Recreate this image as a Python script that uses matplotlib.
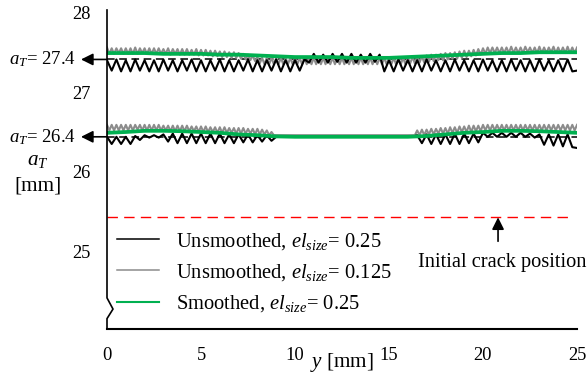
import numpy as np
import matplotlib
matplotlib.use('Agg')
import matplotlib.pyplot as plt
from matplotlib.transforms import blended_transform_factory

plt.rcParams['font.family'] = 'Liberation Serif'
plt.rcParams['mathtext.fontset'] = 'custom'
plt.rcParams['mathtext.rm'] = 'Liberation Serif'
plt.rcParams['mathtext.it'] = 'Liberation Serif:italic'
plt.rcParams['font.size'] = 13.3

# crack front positions a_T along the thickness coordinate y [mm]
y_coarse = np.arange(101) * 0.25    # el_size = 0.25 nodes
y_fine = np.arange(201) * 0.125     # el_size = 0.125 nodes
y_smooth = np.arange(26) * 1.0

# upper crack front (a_T = 27.4)
black_top = [
    27.40, 27.27, 27.41, 27.26, 27.40, 27.26, 27.41, 27.27, 27.40, 27.26,
    27.40, 27.26, 27.41, 27.27, 27.40, 27.26, 27.40, 27.27, 27.41, 27.26,
    27.40, 27.26, 27.40, 27.27, 27.41, 27.26, 27.40, 27.26, 27.40, 27.27,
    27.41, 27.26, 27.40, 27.26, 27.40, 27.27, 27.41, 27.26, 27.40, 27.26,
    27.40, 27.27, 27.41, 27.37, 27.48, 27.37, 27.47, 27.37, 27.48, 27.38,
    27.48, 27.37, 27.48, 27.37, 27.47, 27.37, 27.48, 27.38, 27.47, 27.26,
    27.40, 27.26, 27.41, 27.27, 27.40, 27.26, 27.40, 27.26, 27.41, 27.27,
    27.40, 27.26, 27.40, 27.26, 27.41, 27.27, 27.40, 27.26, 27.40, 27.26,
    27.41, 27.27, 27.40, 27.26, 27.40, 27.26, 27.41, 27.27, 27.40, 27.26,
    27.40, 27.26, 27.41, 27.27, 27.40, 27.26, 27.40, 27.26, 27.41, 27.26,
    27.27,
]
grey_top = [
    27.56, 27.48, 27.55, 27.48, 27.55, 27.49, 27.55, 27.48,
    27.55, 27.48, 27.55, 27.48, 27.56, 27.48, 27.55, 27.49,
    27.55, 27.48, 27.55, 27.48, 27.55, 27.48, 27.55, 27.48,
    27.54, 27.48, 27.55, 27.47, 27.54, 27.48, 27.54, 27.47,
    27.54, 27.47, 27.54, 27.47, 27.53, 27.47, 27.54, 27.46,
    27.53, 27.46, 27.53, 27.46, 27.52, 27.45, 27.52, 27.45,
    27.51, 27.44, 27.51, 27.44, 27.50, 27.43, 27.50, 27.43,
    27.49, 27.42, 27.48, 27.41, 27.47, 27.40, 27.46, 27.39,
    27.44, 27.36, 27.43, 27.35, 27.43, 27.35, 27.43, 27.35,
    27.43, 27.35, 27.43, 27.35, 27.43, 27.35, 27.43, 27.35,
    27.43, 27.35, 27.43, 27.35, 27.43, 27.35, 27.43, 27.35,
    27.43, 27.35, 27.43, 27.35, 27.43, 27.35, 27.43, 27.35,
    27.43, 27.35, 27.43, 27.35, 27.43, 27.35, 27.43, 27.35,
    27.43, 27.35, 27.43, 27.35, 27.43, 27.35, 27.43, 27.35,
    27.43, 27.35, 27.43, 27.35, 27.43, 27.35, 27.43, 27.35,
    27.43, 27.35, 27.43, 27.35, 27.43, 27.35, 27.43, 27.35,
    27.44, 27.36, 27.44, 27.36, 27.45, 27.37, 27.45, 27.37,
    27.46, 27.38, 27.47, 27.39, 27.47, 27.40, 27.48, 27.40,
    27.49, 27.41, 27.49, 27.42, 27.50, 27.42, 27.51, 27.43,
    27.52, 27.44, 27.52, 27.45, 27.53, 27.46, 27.54, 27.47,
    27.55, 27.48, 27.56, 27.49, 27.56, 27.49, 27.56, 27.49,
    27.56, 27.49, 27.56, 27.49, 27.57, 27.49, 27.56, 27.49,
    27.56, 27.49, 27.57, 27.50, 27.56, 27.49, 27.56, 27.49,
    27.57, 27.49, 27.56, 27.49, 27.56, 27.50, 27.57, 27.49,
    27.56, 27.49, 27.56, 27.49, 27.57, 27.49, 27.56, 27.49,
    27.56,
]
green_top = [27.49, 27.49, 27.49, 27.48, 27.48, 27.48, 27.47, 27.47, 27.46,
             27.45, 27.44, 27.44, 27.44, 27.43, 27.43, 27.43, 27.44, 27.45,
             27.46, 27.47, 27.48, 27.49, 27.49, 27.50, 27.50, 27.50]

# lower crack front (a_T = 26.4)
black_bot = [
    26.44, 26.35, 26.44, 26.35,
    26.44, 26.35, 26.45, 26.40,
    26.46, 26.43, 26.46, 26.43,
    26.47, 26.38, 26.48, 26.36,
    26.48, 26.36, 26.48, 26.36,
    26.48, 26.36, 26.48, 26.36,
    26.48, 26.36, 26.47, 26.36,
    26.47, 26.37, 26.47, 26.37,
    26.46, 26.38, 26.46, 26.39,
    26.44, 26.44, 26.44, 26.44,
    26.44, 26.44, 26.44, 26.44,
    26.44, 26.44, 26.44, 26.44,
    26.44, 26.44, 26.44, 26.44,
    26.44, 26.44, 26.44, 26.44,
    26.44, 26.44, 26.44, 26.44,
    26.44, 26.44, 26.44, 26.44,
    26.44, 26.44, 26.46, 26.36,
    26.47, 26.35, 26.47, 26.35,
    26.47, 26.35, 26.48, 26.35,
    26.48, 26.36, 26.48, 26.37,
    26.49, 26.44, 26.49, 26.44,
    26.49, 26.44, 26.49, 26.44,
    26.49, 26.44, 26.48, 26.43,
    26.47, 26.34, 26.47, 26.33,
    26.47, 26.32, 26.47, 26.31,
    26.30,
]
grey_bot = [
    26.59, 26.52, 26.59, 26.52, 26.59, 26.52, 26.59, 26.52,
    26.59, 26.52, 26.59, 26.52, 26.59, 26.53, 26.59, 26.52,
    26.59, 26.52, 26.59, 26.52, 26.59, 26.52, 26.59, 26.52,
    26.58, 26.52, 26.58, 26.51, 26.58, 26.51, 26.58, 26.51,
    26.58, 26.51, 26.58, 26.51, 26.57, 26.51, 26.57, 26.50,
    26.57, 26.50, 26.57, 26.50, 26.56, 26.50, 26.56, 26.49,
    26.56, 26.49, 26.56, 26.49, 26.55, 26.49, 26.55, 26.48,
    26.55, 26.48, 26.55, 26.48, 26.54, 26.48, 26.54, 26.47,
    26.54, 26.47, 26.53, 26.47, 26.52, 26.46, 26.50, 26.46,
    26.46, 26.46, 26.46, 26.46, 26.46, 26.46, 26.46, 26.46,
    26.46, 26.46, 26.46, 26.46, 26.46, 26.46, 26.46, 26.46,
    26.46, 26.46, 26.46, 26.46, 26.46, 26.46, 26.46, 26.46,
    26.46, 26.46, 26.46, 26.46, 26.46, 26.46, 26.46, 26.46,
    26.46, 26.46, 26.46, 26.46, 26.46, 26.46, 26.46, 26.46,
    26.46, 26.46, 26.46, 26.46, 26.46, 26.46, 26.46, 26.46,
    26.46, 26.46, 26.46, 26.46, 26.46, 26.46, 26.46, 26.46,
    26.46, 26.46, 26.46, 26.46, 26.52, 26.46, 26.53, 26.46,
    26.53, 26.47, 26.54, 26.47, 26.54, 26.48, 26.55, 26.48,
    26.55, 26.48, 26.56, 26.49, 26.56, 26.49, 26.57, 26.50,
    26.57, 26.50, 26.58, 26.50, 26.58, 26.51, 26.58, 26.51,
    26.59, 26.52, 26.59, 26.52, 26.59, 26.52, 26.59, 26.52,
    26.59, 26.52, 26.59, 26.52, 26.59, 26.52, 26.59, 26.52,
    26.59, 26.52, 26.59, 26.52, 26.59, 26.52, 26.59, 26.52,
    26.59, 26.52, 26.59, 26.52, 26.59, 26.52, 26.59, 26.52,
    26.59, 26.52, 26.59, 26.52, 26.59, 26.52, 26.59, 26.52,
    26.59,
]
green_bot = [26.49, 26.50, 26.515, 26.515, 26.51, 26.50, 26.49, 26.47, 26.46,
             26.445, 26.44, 26.44, 26.44, 26.44, 26.44, 26.44, 26.44, 26.45,
             26.47, 26.49, 26.50, 26.515, 26.515, 26.51, 26.50, 26.49]

aT_values = [27.41, 26.44]
aT_labels = ['27.4', '26.4']
crack_pos = 25.44
crack_end = 24.6
crack_arrow_y = 20.8

labels = [r'Unsmoothed, $el_{size}$= 0.25',
          r'Unsmoothed, $el_{size}$= 0.125',
          r'Smoothed, $el_{size}$= 0.25']
c_black, c_grey, c_green = 'black', '#8c8c8c', '#00b050'
big = 15.2

W, H = 588, 375
fig = plt.figure(figsize=(W / 100, H / 100), dpi=100)
ax = fig.add_axes([107 / W, 1 - 329 / H, 470 / W, 319 / H])
ax.set_xlim(0, 25)
ax.set_ylim(24.03, 28.03)

# reference a_T lines
for v in aT_values:
    ax.plot([0, 25], [v, v], color='black', lw=1.1, dashes=(5, 3), zorder=1)

for grey, black, green in [(grey_top, black_top, green_top), (grey_bot, black_bot, green_bot)]:
    ax.plot(y_fine, grey, color=c_grey, lw=1.5, zorder=2)
    ax.plot(y_coarse, black, color=c_black, lw=1.5, zorder=3)
    ax.plot(y_smooth, green, color=c_green, lw=2.7, zorder=4)

# initial crack position
ax.plot([0, crack_end], [crack_pos, crack_pos], color='red', lw=1.0, dashes=(7.5, 4.5))
ax.annotate('', xy=(crack_arrow_y, crack_pos - 0.01), xytext=(crack_arrow_y, 25.13),
            arrowprops=dict(arrowstyle='-|>', color='black', lw=1.2, mutation_scale=18,
                            shrinkA=0, shrinkB=0))
ax.text(16.55, 24.86, 'Initial crack position', ha='left', va='center',
        fontsize=14.7, clip_on=False)

# a_T value markers on the left
bt = blended_transform_factory(ax.transAxes, ax.transData)
for v, lab in zip(aT_values, aT_labels):
    ax.annotate('', xy=(-26 / 470, v), xycoords=bt, xytext=(0, v), textcoords=bt,
                arrowprops=dict(arrowstyle='-|>', color='black', lw=1.2, mutation_scale=18,
                                shrinkA=0, shrinkB=0))
    ax.text(-31 / 470, v, r'$a_T$= ' + lab, transform=bt, ha='right', va='center',
            fontsize=13.5)

# axes styling
ax.spines['top'].set_visible(False)
ax.spines['right'].set_visible(False)
ax.spines['left'].set_visible(False)
ax.spines['bottom'].set_linewidth(1.5)
ax.set_xticks([0, 5, 10, 15, 20, 25])
ax.set_yticks([25, 26, 27, 28])
ax.tick_params(axis='both', length=0)
ax.tick_params(axis='y', pad=12)
ax.tick_params(axis='x', pad=13)

# left axis with break symbol
brk_x = [0, 0, 6 / 470, 0, 0]
brk_y = [28.03, 24.42, 24.28, 24.16, 24.03]
ax.plot(brk_x, brk_y, transform=bt, color='black', lw=1.2, clip_on=False, zorder=5)

ax.set_xlabel(r'$y$ [mm]', va='center', fontsize=big)
ax.xaxis.set_label_coords((342 - 107) / 470, -(363 - 329) / 319)
fig.text(38 / W, 1 - 161 / H, r'$a_T$', ha='center', va='center', fontsize=big)
fig.text(38 / W, 1 - 186 / H, '[mm]', ha='center', va='center', fontsize=big)

ax.legend(labels, loc='upper left', bbox_to_anchor=(117 / W, 1 - 231 / H),
          bbox_transform=fig.transFigure, frameon=False, borderpad=0, borderaxespad=0,
          fontsize=14.8, handlelength=2.05, handletextpad=0.83, labelspacing=0.5)
handles = ax.get_legend().legend_handles
for h, c in zip(handles, [c_black, c_grey, c_green]):
    h.set_color(c)
    h.set_linestyle('-')

fig.savefig('out.png', dpi=100)
